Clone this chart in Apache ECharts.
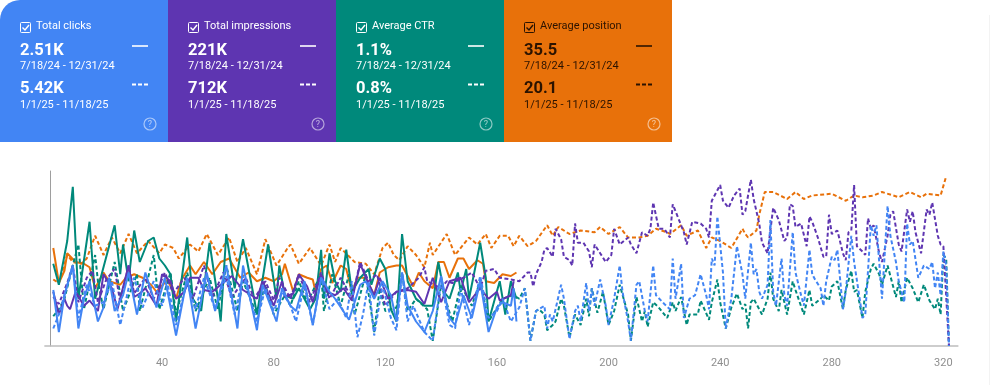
<!DOCTYPE html>
<html>
<head>
<meta charset="utf-8">
<style>
  html, body { margin: 0; padding: 0; background: #fff; }
  #main { width: 990px; height: 385px; }
</style>
<script src="https://cdn.jsdelivr.net/npm/echarts@6/dist/echarts.min.js"></script>
</head>
<body>
<div id="main"></div>
<script>
// card texts
var cardTitles = ['Total clicks', 'Total impressions', 'Average CTR', 'Average position'];
var cardPrev = ['2.51K', '221K', '1.1%', '35.5'];
var cardCurr = ['5.42K', '712K', '0.8%', '20.1'];
var cardColors = ['#4285f4', '#5e35b1', '#00897b', '#e8710a'];
var cardInk = ['#fff', '#fff', '#fff', '#2b1300'];
var prevRange = '7/18/24 - 12/31/24';
var currRange = '1/1/25 - 11/18/25';
var tickValues = [40, 80, 120, 160, 200, 240, 280, 320];

// [day, value], value scale is 0-100 of the plot height
var clicksPrev = [[1,32],[3,8],[5,29],[8,46],[10,10],[12,27],[14,37],[17,14],[19,22],[21,39],[23,20],[26,29],[28,42],[31,18],[34,42],[38,22],[41,39],[45,6],[49,39],[52,10],[56,42],[59,20],[63,46],[67,10],[69,46],[74,9],[76,35],[81,14],[83,33],[86,23],[88,20],[91,37],[94,12],[97,39],[100,31],[102,27],[107,15],[111,35],[113,37],[116,27],[119,37],[122,29],[124,14],[126,42],[128,23],[131,14],[134,8],[137,20],[140,40],[143,16],[145,12],[148,29],[151,16],[154,37],[157,8],[160,22],[162,25],[165,23],[166,33],[167,14]];
var clicksCurr = [[1,10],[3,18],[5,29],[8,46],[10,16],[13,35],[16,23],[19,25],[22,37],[25,12],[28,33],[30,39],[33,22],[37,37],[40,23],[42,35],[45,12],[49,37],[52,21],[55,39],[59,21],[63,40],[66,18],[69,40],[74,14],[77,33],[80,20],[83,31],[86,23],[88,14],[91,35],[94,12],[97,39],[100,21],[103,27],[106,16],[108,37],[110,5],[112,18],[114,37],[116,6],[119,35],[122,16],[124,9],[126,42],[128,14],[130,23],[134,8],[137,3],[140,37],[143,12],[145,10],[147,33],[150,12],[154,40],[157,16],[160,20],[162,27],[165,14],[168,22],[170,33],[172,3],[174,20],[175,21],[177,23],[178,10],[179,18],[180,14],[183,35],[184,27],[186,4],[188,20],[189,23],[190,14],[192,36],[193,20],[194,33],[195,23],[197,38],[199,23],[200,12],[202,27],[204,46],[205,31],[207,14],[208,3],[210,35],[211,37],[213,20],[214,14],[216,46],[217,29],[220,24],[222,21],[223,50],[224,27],[226,47],[227,16],[229,27],[231,29],[233,41],[235,29],[236,21],[237,50],[238,46],[239,74],[241,42],[242,10],[244,27],[246,57],[248,41],[249,27],[251,59],[252,41],[253,44],[254,31],[255,27],[257,35],[258,72],[259,31],[260,23],[262,50],[263,29],[264,23],[266,65],[267,42],[269,29],[270,23],[272,55],[273,41],[274,38],[276,33],[277,23],[278,37],[280,51],[281,49],[282,55],[284,21],[285,31],[287,63],[288,48],[290,27],[291,16],[292,18],[294,69],[295,63],[296,69],[298,27],[300,80],[301,63],[303,48],[304,37],[306,25],[307,70],[308,58],[309,60],[311,39],[313,46],[315,44],[316,48],[317,33],[318,42],[319,29],[320,54],[321,46],[322,0]];
var imprPrev = [[1,31],[3,18],[5,27],[6,23],[7,21],[9,31],[12,23],[14,26],[17,20],[19,41],[22,33],[24,21],[28,46],[30,28],[32,30],[34,33],[38,23],[40,41],[43,37],[45,27],[48,31],[50,39],[53,39],[55,32],[58,31],[61,35],[65,40],[69,32],[74,27],[76,37],[80,23],[83,37],[84,28],[87,30],[89,41],[92,34],[94,25],[97,41],[99,31],[102,29],[105,33],[108,26],[111,47],[113,39],[116,29],[118,39],[121,27],[124,31],[128,32],[131,31],[134,24],[137,39],[140,25],[143,37],[147,39],[150,25],[154,33],[157,27],[160,31],[161,26],[165,29],[166,37]];
var imprCurr = [[1,28],[3,24],[6,36],[8,46],[10,25],[13,39],[15,43],[17,25],[20,38],[23,44],[25,25],[28,46],[30,30],[34,39],[37,27],[41,42],[44,30],[48,39],[51,27],[55,46],[58,28],[62,42],[65,28],[70,39],[73,27],[77,37],[80,26],[82,39],[86,27],[89,41],[93,25],[97,42],[100,27],[104,39],[108,27],[111,48],[114,37],[117,41],[120,23],[124,31],[128,33],[132,39],[134,45],[135,37],[140,33],[142,37],[144,36],[148,39],[151,42],[154,33],[156,43],[159,44],[161,39],[165,38],[168,37],[171,42],[172,42],[173,34],[174,41],[176,48],[177,55],[178,56],[180,51],[181,67],[183,61],[184,51],[186,49],[187,46],[188,70],[189,59],[191,59],[193,54],[194,45],[195,58],[197,53],[199,48],[201,52],[202,67],[204,58],[207,62],[208,58],[210,53],[212,65],[214,63],[215,67],[216,82],[218,67],[220,67],[222,62],[223,81],[225,73],[227,65],[228,58],[230,71],[233,70],[235,67],[236,62],[237,83],[240,92],[241,83],[243,79],[245,86],[247,90],[248,75],[249,77],[251,95],[252,84],[254,70],[255,59],[257,53],[259,79],[261,72],[263,60],[264,62],[265,81],[266,80],[267,68],[269,70],[271,57],[272,74],[273,71],[275,62],[277,51],[278,51],[279,75],[280,64],[282,66],[284,53],[285,49],[286,65],[287,66],[288,92],[289,57],[291,54],[292,52],[293,73],[294,67],[295,69],[297,53],[298,48],[300,63],[301,75],[302,77],[304,58],[305,54],[307,78],[308,71],[309,77],[310,65],[312,53],[314,78],[315,75],[316,82],[318,63],[319,58],[320,57],[322,0]];
var ctrPrev = [[1,47],[3,35],[6,60],[8,91],[10,27],[14,71],[16,27],[21,57],[23,69],[25,41],[26,58],[28,37],[30,66],[32,48],[35,60],[37,62],[39,50],[41,46],[43,41],[45,14],[49,62],[51,27],[54,20],[57,59],[60,27],[61,14],[63,64],[66,33],[69,61],[73,27],[74,18],[78,58],[81,27],[82,46],[84,29],[87,27],[89,33],[93,21],[95,27],[97,55],[98,27],[100,53],[102,37],[104,31],[106,55],[108,31],[111,39],[114,44],[115,35],[118,50],[120,44],[122,21],[124,14],[126,64],[128,37],[131,27],[134,23],[137,23],[139,48],[141,31],[143,27],[146,42],[147,31],[149,44],[150,27],[154,59],[156,39],[157,14],[161,37],[163,18],[165,37],[167,27]];
var ctrCurr = [[1,17],[3,21],[5,27],[8,46],[10,58],[12,21],[16,52],[17,37],[19,21],[23,48],[26,20],[31,41],[32,20],[37,52],[39,21],[43,42],[45,18],[49,42],[52,20],[57,39],[60,21],[63,46],[67,20],[69,37],[74,18],[77,35],[80,18],[84,29],[86,23],[89,37],[92,25],[97,41],[98,20],[101,41],[104,23],[107,41],[109,18],[113,41],[116,8],[118,33],[120,20],[124,22],[126,42],[128,20],[131,27],[135,21],[137,3],[140,35],[144,14],[147,35],[151,23],[154,37],[157,14],[162,27],[166,29],[168,27],[170,33],[172,3],[174,20],[175,21],[177,18],[178,9],[180,12],[181,14],[183,27],[184,23],[186,5],[188,18],[190,12],[192,27],[193,17],[194,33],[196,19],[198,31],[200,12],[202,20],[204,35],[207,18],[208,3],[210,28],[212,14],[213,20],[214,11],[216,25],[218,22],[221,16],[223,25],[224,20],[226,28],[228,12],[229,18],[232,18],[233,26],[236,15],[237,25],[239,38],[240,25],[242,10],[244,22],[246,30],[248,21],[249,24],[250,10],[251,25],[252,27],[255,18],[257,27],[258,42],[259,27],[261,20],[262,32],[264,18],[266,37],[267,32],[270,18],[272,32],[273,23],[276,27],[277,29],[279,26],[280,34],[282,37],[284,21],[285,32],[287,43],[288,31],[289,32],[291,16],[292,31],[294,44],[295,47],[297,41],[298,35],[300,46],[303,28],[304,37],[305,25],[307,39],[309,33],[311,25],[313,35],[315,26],[317,21],[318,27],[319,18],[320,52],[321,50],[322,0]];
var posPrev = [[1,56],[3,36],[5,43],[6,53],[9,48],[12,47],[14,45],[16,33],[19,42],[21,37],[25,35],[27,39],[30,41],[33,39],[36,35],[38,31],[42,38],[45,27],[47,38],[50,46],[52,41],[55,48],[58,41],[61,48],[64,50],[68,39],[71,42],[74,37],[77,39],[80,37],[83,41],[84,47],[87,31],[89,41],[92,39],[94,38],[95,31],[97,44],[99,46],[101,36],[104,46],[106,44],[108,31],[110,39],[113,39],[116,29],[118,42],[121,45],[124,46],[126,46],[130,34],[132,42],[134,37],[137,33],[139,48],[141,48],[143,39],[146,50],[148,50],[150,44],[153,49],[155,47],[156,37],[159,36],[162,41],[165,40],[167,42]];
var posCurr = [[1,38],[3,36],[6,52],[8,48],[11,47],[13,50],[16,63],[19,52],[22,62],[25,53],[28,64],[31,53],[35,60],[39,53],[41,58],[44,56],[46,50],[50,58],[53,54],[56,64],[60,52],[64,62],[67,48],[70,56],[74,41],[77,61],[81,46],[85,56],[86,58],[89,47],[93,56],[97,46],[100,58],[102,48],[104,56],[109,48],[113,47],[116,41],[119,56],[121,59],[123,52],[125,49],[128,57],[131,52],[134,45],[136,59],[137,52],[142,64],[145,52],[150,62],[153,58],[156,64],[158,56],[161,63],[164,63],[166,57],[168,63],[171,57],[174,60],[178,69],[180,63],[182,68],[186,64],[190,66],[195,65],[197,68],[200,64],[204,68],[207,62],[211,62],[214,63],[217,67],[221,65],[222,64],[226,69],[228,63],[232,66],[235,56],[237,62],[240,60],[244,56],[248,67],[249,64],[250,62],[253,66],[254,75],[256,88],[259,88],[264,84],[267,88],[270,84],[273,86],[280,87],[285,83],[288,86],[291,85],[295,86],[298,88],[302,86],[304,85],[308,88],[312,85],[314,87],[319,86],[321,97]];

function cardGraphics(i) {
  var x = 168 * i;
  var ink = cardInk[i];
  function label(tx, ty, str, font) {
    return { type: 'text', x: tx, y: ty, style: { text: str, fill: ink, font: font, textVerticalAlign: 'middle' } };
  }
  function stroke(pts, dash, width) {
    return { type: 'polyline', shape: { points: pts }, style: { stroke: ink, fill: null, lineWidth: width, lineDash: dash } };
  }
  return [
    { type: 'rect', shape: { x: x, y: 0, width: 168, height: 142, r: i == 0 ? [20, 0, 0, 0] : 0 }, style: { fill: cardColors[i] } },
    { type: 'rect', shape: { x: x + 20.5, y: 22.5, width: 10, height: 10, r: 1 }, style: { fill: null, stroke: ink, lineWidth: 1 } },
    stroke([[x + 22.5, 27.5], [x + 25, 30], [x + 29, 25]], null, 1.4),
    label(x + 36, 26.5, cardTitles[i], '11px Roboto'),
    label(x + 20, 50.5, cardPrev[i], 'bold 16.5px Roboto'),
    label(x + 20, 66.5, prevRange, '11px Roboto'),
    label(x + 20, 88.5, cardCurr[i], 'bold 16.5px Roboto'),
    label(x + 20, 105, currRange, '11px Roboto'),
    stroke([[x + 132, 46], [x + 148, 46]], null, 1.6),
    stroke([[x + 132, 84.5], [x + 148, 84.5]], [4, 2], 1.8),
    { type: 'circle', shape: { cx: x + 150, cy: 124, r: 6 }, style: { fill: null, stroke: 'rgba(255,255,255,0.55)', lineWidth: 1.2 } },
    { type: 'text', x: x + 150, y: 124.5, style: { text: '?', fill: 'rgba(255,255,255,0.6)', font: '9px Roboto', textAlign: 'center', textVerticalAlign: 'middle' } }
  ];
}

function makeLine(name, data, color, dashed) {
  return {
    name: name,
    type: 'line',
    data: data,
    symbol: 'none',
    lineStyle: { color: color, width: 2, type: dashed ? [4, 2.5] : 'solid' }
  };
}

var graphics = [];
for (var i = 0; i < 4; i++) graphics = graphics.concat(cardGraphics(i));
// faint edge of the screenshot on the right
graphics.push({ type: 'rect', shape: { x: 989, y: 15, width: 1, height: 370 }, style: { fill: '#f3f3f3' } });

var option = {
  animation: false,
  backgroundColor: '#fff',
  grid: { left: 44.9, top: 171, width: 913, height: 175 },
  xAxis: {
    type: 'value',
    min: -2,
    max: 325.2,
    splitLine: { show: false },
    axisTick: { show: false },
    axisLine: { lineStyle: { color: '#bdbdbd', width: 1.5 } },
    axisLabel: { customValues: tickValues, color: '#8f8f8f', fontFamily: 'Roboto', fontSize: 11, margin: 12 }
  },
  yAxis: {
    type: 'value',
    min: 0,
    max: 100,
    splitLine: { show: false },
    axisTick: { show: false },
    axisLabel: { show: false },
    axisLine: { show: true, onZero: true, lineStyle: { color: '#9e9e9e', width: 1 } }
  },
  graphic: { elements: graphics },
  series: [
    makeLine('Average position', posCurr, cardColors[3], true),
    makeLine('Average position (prev)', posPrev, cardColors[3], false),
    makeLine('Average CTR', ctrCurr, cardColors[2], true),
    makeLine('Average CTR (prev)', ctrPrev, cardColors[2], false),
    makeLine('Total impressions', imprCurr, cardColors[1], true),
    makeLine('Total impressions (prev)', imprPrev, cardColors[1], false),
    makeLine('Total clicks', clicksCurr, cardColors[0], true),
    makeLine('Total clicks (prev)', clicksPrev, cardColors[0], false)
  ]
};

var chart = echarts.init(document.getElementById('main'));
chart.setOption(option);

window.addEventListener('resize', function () {
  chart.resize();
});
</script>
</body>
</html>
